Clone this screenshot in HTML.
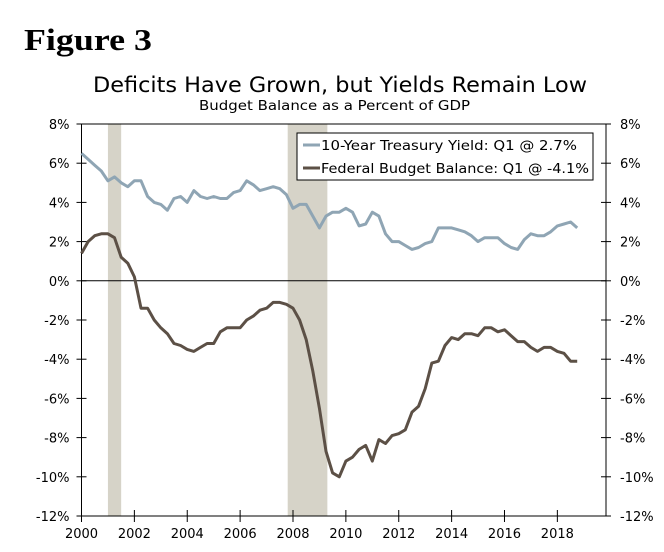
<!DOCTYPE html>
<html><head><meta charset="utf-8"><style>
body{margin:0;background:#fff;width:664px;height:552px;overflow:hidden}
svg{display:block}
text{font-family:"DejaVu Sans","Liberation Sans",sans-serif;fill:#000}
</style></head><body>
<svg id="chart" width="664" height="552">
<text x="24" y="50" textLength="128" lengthAdjust="spacingAndGlyphs" style="font-family:'Liberation Serif',serif;font-weight:bold;font-size:31px">Figure 3</text>
<text x="93" y="92" textLength="494" lengthAdjust="spacingAndGlyphs" font-size="21">Deficits Have Grown, but Yields Remain Low</text>
<text x="199" y="110" textLength="271" lengthAdjust="spacingAndGlyphs" font-size="13">Budget Balance as a Percent of GDP</text>
<g id="rec"></g><g id="grid"></g><g id="lines"></g>
<g>
<rect x="297" y="133" width="296" height="47" fill="#fff" stroke="#000" stroke-width="1"/>
<line x1="303" y1="145" x2="320" y2="145" stroke="#8fa5b4" stroke-width="3"/>
<text x="321" y="150" textLength="256" lengthAdjust="spacingAndGlyphs" font-size="13.5">10-Year Treasury Yield: Q1 @ 2.7%</text>
<line x1="303" y1="168" x2="320" y2="168" stroke="#5c5046" stroke-width="3"/>
<text x="321" y="173" textLength="268" lengthAdjust="spacingAndGlyphs" font-size="13.5">Federal Budget Balance: Q1 @ -4.1%</text>
</g>
</svg>
<script>
const yTicks=[8,6,4,2,0,-2,-4,-6,-8,-10,-12];
const xTicks=[2000,2002,2004,2006,2008,2010,2012,2014,2016,2018];
const recessions=[[2001.0,2001.5],[2007.8,2009.3]];
const treasury=[6.5,6.2,5.9,5.6,5.1,5.3,5.0,4.8,5.1,5.1,4.3,4.0,3.9,3.6,4.2,4.3,4.0,4.6,4.3,4.2,4.3,4.2,4.2,4.5,4.6,5.1,4.9,4.6,4.7,4.8,4.7,4.4,3.7,3.9,3.9,3.3,2.7,3.3,3.5,3.5,3.7,3.5,2.8,2.9,3.5,3.3,2.4,2.0,2.0,1.8,1.6,1.7,1.9,2.0,2.7,2.7,2.7,2.6,2.5,2.3,2.0,2.2,2.2,2.2,1.9,1.7,1.6,2.1,2.4,2.3,2.3,2.5,2.8,2.9,3.0,2.7];
const budget=[1.4,2.0,2.3,2.4,2.4,2.2,1.2,0.9,0.2,-1.4,-1.4,-2.0,-2.4,-2.7,-3.2,-3.3,-3.5,-3.6,-3.4,-3.2,-3.2,-2.6,-2.4,-2.4,-2.4,-2.0,-1.8,-1.5,-1.4,-1.1,-1.1,-1.2,-1.4,-2.0,-3.0,-4.6,-6.5,-8.7,-9.8,-10.0,-9.2,-9.0,-8.6,-8.4,-9.2,-8.1,-8.3,-7.9,-7.8,-7.6,-6.7,-6.4,-5.5,-4.2,-4.1,-3.3,-2.9,-3.0,-2.7,-2.7,-2.8,-2.4,-2.4,-2.6,-2.5,-2.8,-3.1,-3.1,-3.4,-3.6,-3.4,-3.4,-3.6,-3.7,-4.1,-4.1];
const L=81.5,R=606,T=124,B=516,X0=2000,X1=2019.84;
const xs=v=>L+(v-X0)/(X1-X0)*(R-L);
const ys=v=>T+(8-v)/20*(B-T);
const NS='http://www.w3.org/2000/svg';
function mk(tag,attrs,parent){const e=document.createElementNS(NS,tag);for(const k in attrs)e.setAttribute(k,attrs[k]);parent.appendChild(e);return e;}
const rec=document.getElementById('rec'),grid=document.getElementById('grid'),lines=document.getElementById('lines');
recessions.forEach(r=>{const e=mk('rect',{x:xs(r[0]),y:T,width:xs(r[1])-xs(r[0]),height:B-T,fill:'#d6d3c8'},rec);

});
mk('line',{x1:L,y1:T,x2:R,y2:T,stroke:'#000'},grid);
mk('line',{x1:L,y1:T,x2:L,y2:B,stroke:'#000'},grid);
mk('line',{x1:R,y1:T,x2:R,y2:B,stroke:'#000'},grid);
mk('line',{x1:L,y1:B,x2:R,y2:B,stroke:'#000'},grid);
mk('line',{x1:L,y1:ys(0),x2:R,y2:ys(0),stroke:'#000'},grid);
yTicks.forEach(v=>{const y=ys(v);
mk('line',{x1:L-5,y1:y,x2:L+5,y2:y,stroke:'#000'},grid);
mk('line',{x1:R-5,y1:y,x2:R+5,y2:y,stroke:'#000'},grid);
const a=mk('text',{x:L-12,y:y+5,'text-anchor':'end','font-size':'13'},grid);a.textContent=v+'%';


const b=mk('text',{x:R+14,y:y+5,'font-size':'13'},grid);b.textContent=v+'%';

});
xTicks.forEach(v=>{const x=xs(v);
mk('line',{x1:x,y1:B-6,x2:x,y2:B+6,stroke:'#000'},grid);
const t=mk('text',{x:x,y:B+22,'text-anchor':'middle','font-size':'13'},grid);t.textContent=v;

});
function series(arr,color,name){const pts=arr.map((v,i)=>xs(X0+i/4).toFixed(1)+','+ys(v).toFixed(1)).join(' ');
const p=mk('polyline',{points:pts,fill:'none',stroke:color,'stroke-width':'3','stroke-linejoin':'round'},lines);

}
series(treasury,'#8fa5b4','treasury-yield-line');
series(budget,'#5c5046','budget-balance-line');
</script>
</body></html>
